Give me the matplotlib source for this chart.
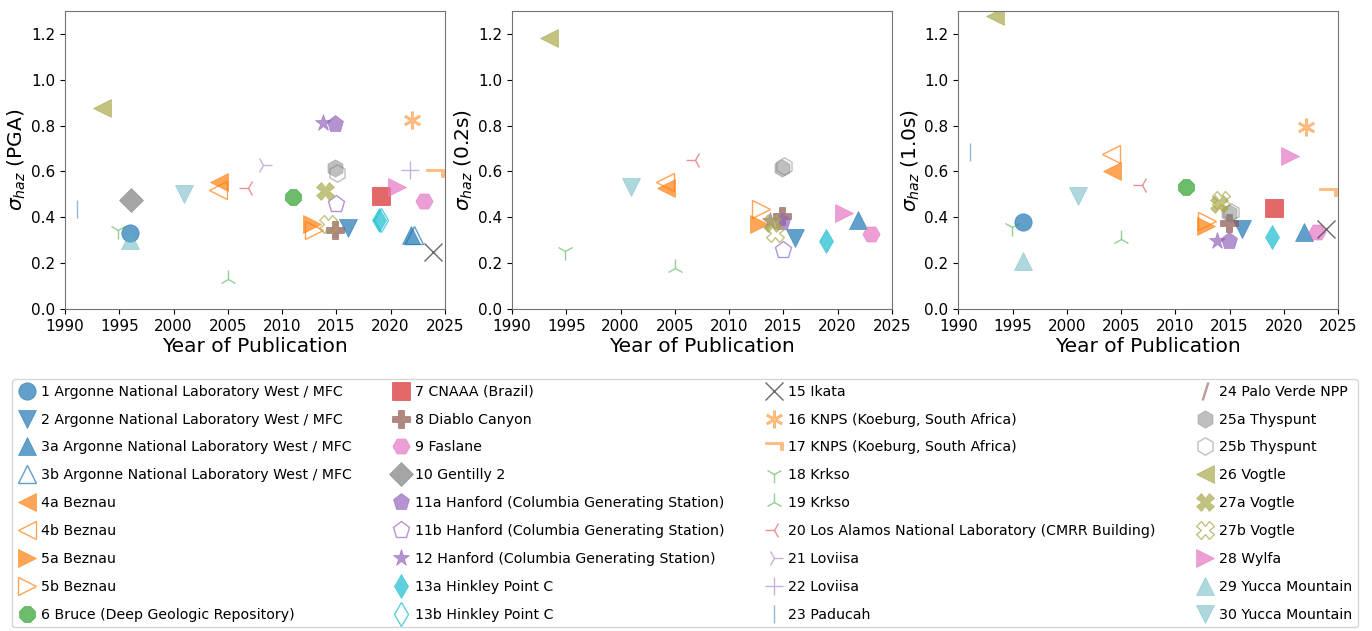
import numpy as np
import matplotlib
matplotlib.use('Agg')
import matplotlib.pyplot as plt
from matplotlib.lines import Line2D

# site ids and legend names (no site 14 in the study)
site_ids = ['1', '2', '3a', '3b', '4a', '4b', '5a', '5b', '6', '7', '8', '9', '10',
            '11a', '11b', '12', '13a', '13b', '15', '16', '17', '18', '19', '20',
            '21', '22', '23', '24', '25a', '25b', '26', '27a', '27b', '28', '29', '30']
site_names = [
    'Argonne National Laboratory West / MFC', 'Argonne National Laboratory West / MFC',
    'Argonne National Laboratory West / MFC', 'Argonne National Laboratory West / MFC',
    'Beznau', 'Beznau', 'Beznau', 'Beznau', 'Bruce (Deep Geologic Repository)',
    'CNAAA (Brazil)', 'Diablo Canyon', 'Faslane', 'Gentilly 2',
    'Hanford (Columbia Generating Station)', 'Hanford (Columbia Generating Station)',
    'Hanford (Columbia Generating Station)', 'Hinkley Point C', 'Hinkley Point C',
    'Ikata', 'KNPS (Koeburg, South Africa)', 'KNPS (Koeburg, South Africa)',
    'Krkso', 'Krkso', 'Los Alamos National Laboratory (CMRR Building)',
    'Loviisa', 'Loviisa', 'Paducah', 'Palo Verde NPP', 'Thyspunt', 'Thyspunt',
    'Vogtle', 'Vogtle', 'Vogtle', 'Wylfa', 'Yucca Mountain', 'Yucca Mountain']

N = None
pub_year = [1996.0, 2016.1, 2021.9, 2022.2, 2004.2, 2004.1, 2012.8, 2012.9, 2011.0,
            2019.1, 2014.9, 2023.1, 1996.1, 2014.9, 2015.0, 2013.8, 2018.9, 2019.1,
            2023.9, 2022.0, 2024.1, 1994.9, 2005.0, 2006.9, 2008.2, 2021.8, 1991.1,
            N, 2014.9, 2015.1, 1993.4, 2014.0, 2014.2, 2020.6, 1996.0, 2001.0]

sigma_pga = [0.331, 0.353, 0.324, 0.324, 0.556, 0.520, 0.372, 0.346, 0.487,
             0.494, 0.346, 0.469, 0.474, 0.808, 0.459, 0.811, 0.389, 0.389,
             0.247, 0.825, 0.593, 0.346, 0.131, 0.527, 0.629, 0.607, 0.436,
             N, 0.615, 0.593, 0.876, 0.513, 0.372, 0.532, 0.300, 0.503]
sigma_02s = [N, 0.309, 0.387, N, 0.527, 0.552, 0.372, 0.436, N,
             N, 0.404, 0.328, N, 0.378, 0.259, 0.382, 0.295, N,
             N, N, N, 0.251, 0.179, 0.648, N, N, N,
             N, 0.615, 0.622, 1.181, 0.375, 0.331, 0.418, N, 0.530]
sigma_10s = [0.378, 0.349, 0.336, N, 0.600, 0.677, 0.360, 0.382, 0.530,
             0.440, 0.375, 0.336, N, 0.295, N, 0.295, 0.314, N,
             0.349, 0.792, 0.509, 0.357, 0.305, 0.542, N, N, 0.687,
             N, 0.418, 0.425, 1.279, 0.459, 0.476, 0.668, 0.208, 0.491]

# marker styles per site
markers = ['o', 'v', '^', '^', '<', '<', '>', '>', '8', 's', 'P', 'H', 'D',
           'p', 'p', '*', 'd', 'd', 'x', r'$\ast$', r'$\neg$', '1', '2', '3',
           '4', '+', '|', '$/$', 'h', 'h', '<', 'X', 'X', '>', '^', 'v']
olive = '#a9a84c'
colors = ['tab:blue'] * 4 + ['tab:orange'] * 4 + ['tab:green', 'tab:red', 'tab:brown',
          'tab:pink', 'tab:gray', 'tab:purple', 'tab:purple', 'tab:purple',
          'tab:cyan', 'tab:cyan', '#444444', 'tab:orange', 'tab:orange',
          'tab:green', 'tab:green', 'tab:red', 'tab:purple', 'tab:purple',
          'tab:blue', 'tab:brown', 'gray', 'gray', olive, olive,
          olive, 'tab:pink', '#5fb0bf', '#5fb0bf']
hollow = {'3b', '4b', '5b', '11b', '13b', '25b', '27b'}
pale = {'16', '17', '25a', '25b', '29', '30', '18', '19', '20', '21', '22', '23', '24'}
line_marks = {'x', '1', '2', '3', '4', '+', '|'}

plt.rcParams['font.family'] = 'DejaVu Sans'
MS = 12.5


def style(i):
    sid, m, c = site_ids[i], markers[i], colors[i]
    alpha = 0.5 if sid in pale else 0.7
    if sid == '15':
        alpha = 0.8
    kw = dict(linestyle='none', marker=m, markersize=MS, alpha=alpha)
    if sid in hollow:
        kw.update(markerfacecolor='none', markeredgecolor=c, markeredgewidth=1.0)
    elif m in line_marks:
        kw.update(color=c, markeredgewidth=1.0)
    else:
        kw.update(markerfacecolor=c, markeredgecolor=c, markeredgewidth=0.5)
    return kw


fig = plt.figure(figsize=(13.72, 6.31), dpi=100)
lefts = [0.0474, 0.3732, 0.6985]
panels = [(sigma_pga, r'$\sigma_{haz}$ (PGA)'),
          (sigma_02s, r'$\sigma_{haz}$ (0.2s)'),
          (sigma_10s, r'$\sigma_{haz}$ (1.0s)')]

for left, (vals, ylab) in zip(lefts, panels):
    ax = fig.add_axes([left, 0.5103, 0.2768, 0.4723])
    for i in range(len(site_ids)):
        if vals[i] is None or pub_year[i] is None:
            continue
        ax.plot([pub_year[i]], [vals[i]], **style(i))
    ax.set_xlim(1990, 2025)
    ax.set_ylim(0, 1.3)
    ax.set_xticks(np.arange(1990, 2026, 5))
    ax.set_yticks(np.arange(0, 1.21, 0.2))
    ax.tick_params(labelsize=11)
    ax.set_xlabel('Year of Publication', fontsize=14.5, labelpad=2)
    ax.set_ylabel(ylab, fontsize=14.5, labelpad=2)
    for sp in ax.spines.values():
        sp.set_color('0.45')

handles = [Line2D([], [], **style(i)) for i in range(len(site_ids))]
labels = [f'{s} {n}' for s, n in zip(site_ids, site_names)]
fig.legend(handles, labels, loc='upper left',
           bbox_to_anchor=(0.00875, 0.0048, 0.9811, 0.3946), mode='expand',
           ncol=4, fontsize=10.2, labelspacing=0.98, columnspacing=1.0,
           handlelength=1.3, handletextpad=0.35, borderpad=0.4, borderaxespad=0)

fig.savefig('out.png', dpi=100)
